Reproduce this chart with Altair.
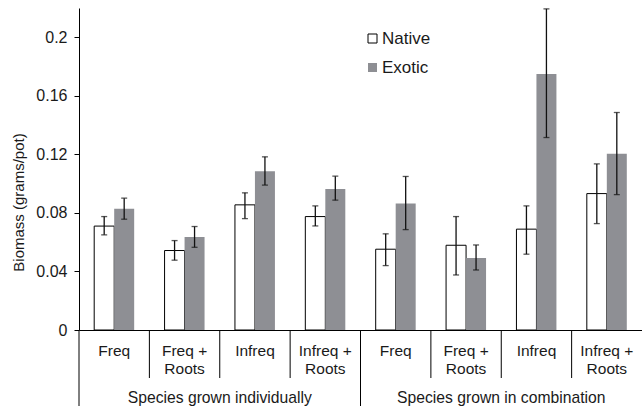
import altair as alt
import pandas as pd

# Treatments within each growing setting
treatments = ["Freq", "Freq +\nRoots", "Infreq", "Infreq +\nRoots"]
settings = ["Species grown individually", "Species grown in combination"]

# Mean biomass (grams/pot) with error-bar bounds, one entry per treatment slot
native_mean = [0.071, 0.0543, 0.0855, 0.0775, 0.0552, 0.0579, 0.0689, 0.0932]
native_lo = [0.065, 0.0477, 0.0761, 0.0711, 0.0440, 0.0376, 0.0518, 0.0727]
native_hi = [0.0775, 0.0611, 0.0937, 0.0848, 0.0657, 0.0775, 0.0848, 0.1135]

exotic_mean = [0.0828, 0.0636, 0.1085, 0.0964, 0.0864, 0.0492, 0.1749, 0.1204]
exotic_lo = [0.0757, 0.0565, 0.0990, 0.0887, 0.0686, 0.0410, 0.1315, 0.0925]
exotic_hi = [0.0901, 0.0707, 0.1183, 0.1051, 0.1049, 0.0581, 0.2194, 0.1486]

y_ticks = [0, 0.04, 0.08, 0.12, 0.16, 0.2]

species = ["Native", "Exotic"]
gray = "#8e8f94"
ink = "#1a1a1a"
font = "Liberation Sans"

W, H = 563, 322

slots = [f"s{i + 1}" for i in range(8)]
slot_labels = treatments * 2

rows = []
for i, s in enumerate(slots):
    rows.append(dict(slot=s, species="Native", mean=native_mean[i], lo=native_lo[i], hi=native_hi[i]))
    rows.append(dict(slot=s, species="Exotic", mean=exotic_mean[i], lo=exotic_lo[i], hi=exotic_hi[i]))
bars_df = pd.DataFrame(rows)

labels_df = pd.DataFrame({"slot": slots, "label": slot_labels})
short_df = pd.DataFrame({"slot": [s for s in slots if s not in ("s1", "s5")]})
long_df = pd.DataFrame({"slot": ["s1", "s5"]})
setting_df = pd.DataFrame({"slot": ["s3", "s7"], "label": settings})

x_scale = alt.Scale(domain=slots, paddingInner=0, paddingOuter=0)
x_axis = alt.Axis(labels=False, ticks=False, title=None, domainColor="black", domainWidth=1)
off_scale = alt.Scale(domain=species, paddingInner=0, paddingOuter=0.76)
y_scale = alt.Scale(domain=[0, 0.22], nice=False, zero=True)

X = alt.X("slot:N", scale=x_scale, axis=x_axis, sort=slots)
XO = alt.XOffset("species:N", scale=off_scale, sort=species)

base = alt.Chart(bars_df)

bars = base.mark_bar(strokeWidth=1).encode(
    x=X,
    xOffset=XO,
    y=alt.Y(
        "mean:Q",
        scale=y_scale,
        axis=alt.Axis(
            values=y_ticks,
            format=".2~f",
            title="Biomass (grams/pot)",
            titleX=-61,
            titleY=194,
            titleAlign="center",
            titleBaseline="middle",
            titleFont=font,
            titleFontSize=15,
            titleFontWeight="normal",
            titleColor=ink,
            labelFont=font,
            labelFontSize=16,
            labelColor=ink,
            labelPadding=7,
            tickSize=5,
            tickColor="black",
            domainColor="black",
            grid=False,
        ),
    ),
    fill=alt.Fill(
        "species:N",
        scale=alt.Scale(domain=species, range=["white", gray]),
        title=None,
        legend=alt.Legend(
            orient="none",
            legendX=285,
            legendY=22,
            symbolType="square",
            symbolSize=81,
            symbolStrokeWidth=1,
            labelFont=font,
            labelFontSize=17,
            labelColor=ink,
            labelOffset=1,
            rowPadding=11,
            padding=0,
        ),
    ),
    stroke=alt.Stroke(
        "species:N",
        scale=alt.Scale(domain=species, range=["black", "transparent"]),
        title=None,
    ),
)

err = base.mark_rule(color="#111", strokeWidth=1.3).encode(
    x=X, xOffset=XO, y=alt.Y("lo:Q", scale=y_scale), y2="hi:Q"
)
cap_lo = base.mark_tick(color="#111", size=6, thickness=1.3).encode(
    x=X, xOffset=XO, y=alt.Y("lo:Q", scale=y_scale)
)
cap_hi = base.mark_tick(color="#111", size=6, thickness=1.3).encode(
    x=X, xOffset=XO, y=alt.Y("hi:Q", scale=y_scale)
)

short_lines = alt.Chart(short_df).mark_rule(color="black", strokeWidth=1).encode(
    x=alt.X("slot:N", scale=x_scale, axis=x_axis, sort=slots, bandPosition=0),
    y=alt.value(H),
    y2=alt.value(H + 48),
)
long_lines = alt.Chart(long_df).mark_rule(color="black", strokeWidth=1).encode(
    x=alt.X("slot:N", scale=x_scale, axis=x_axis, sort=slots, bandPosition=0),
    y=alt.value(H),
    y2=alt.value(H + 76),
)

cat_text = alt.Chart(labels_df).mark_text(
    font=font, fontSize=15.5, color=ink, baseline="top", align="center", lineBreak="\n", lineHeight=18
).encode(x=X, y=alt.value(H + 14), text="label:N")

setting_text = alt.Chart(setting_df).mark_text(
    font=font, fontSize=15.7, color=ink, baseline="top", align="center"
).encode(
    x=alt.X("slot:N", scale=x_scale, axis=x_axis, sort=slots, bandPosition=0),
    y=alt.value(H + 61),
    text="label:N",
)

chart = (
    alt.layer(bars, err, cap_lo, cap_hi, short_lines, long_lines, cat_text, setting_text)
    .properties(
        width=W,
        height=H,
        autosize=alt.AutoSizeParams(type="none"),
        padding={"left": 79, "top": 8, "right": 0, "bottom": 79},
        background="white",
    )
    .configure_view(stroke=None)
)

chart.save("out.html", embed_options={"renderer": "svg", "actions": False})
